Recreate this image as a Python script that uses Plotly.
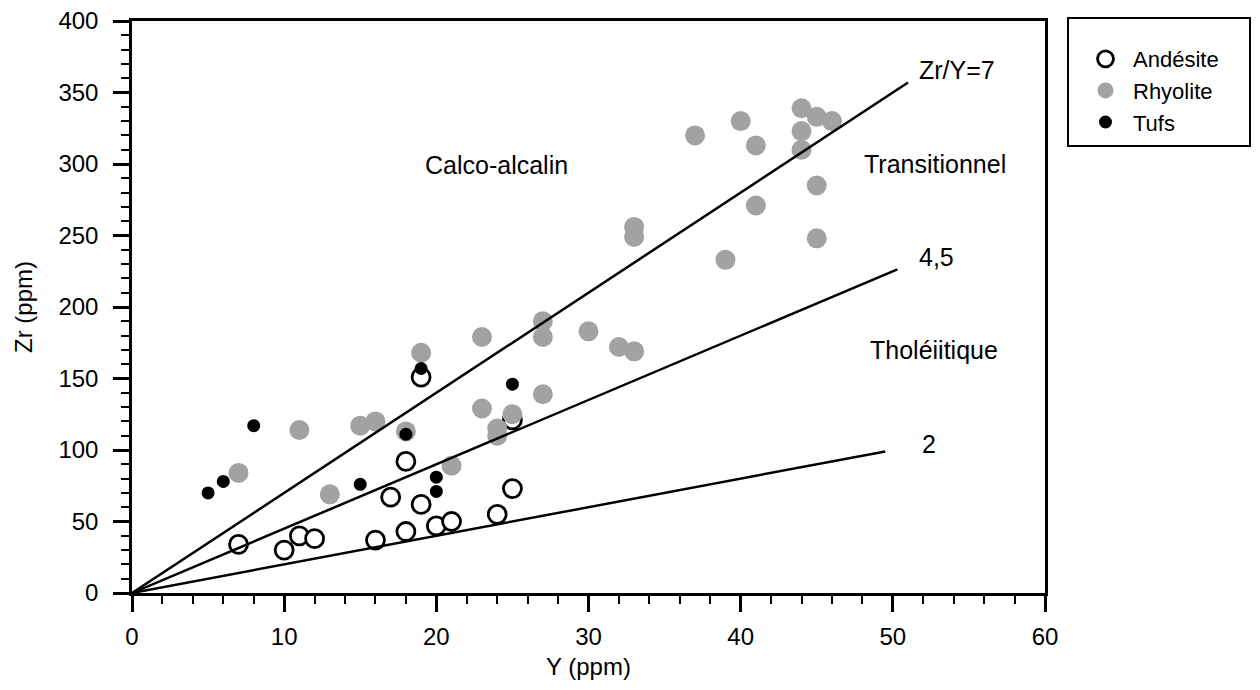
import plotly.graph_objects as go

# ---- data ----
andesite_y = [7, 10, 11, 12, 16, 17, 18, 18, 19, 19, 20, 21, 24, 25, 25]
andesite_zr = [34, 30, 40, 38, 37, 67, 43, 92, 62, 151, 47, 50, 55, 73, 121]

rhyolite_y = [7, 11, 13, 15, 16, 18, 19, 21, 23, 24, 24, 25, 27, 23, 27, 27, 30, 32, 33,
              33, 33, 39, 41, 37, 40, 41, 44, 44, 44, 45, 46, 45, 45]
rhyolite_zr = [84, 114, 69, 117, 120, 113, 168, 89, 129, 115, 110, 125, 139, 179, 179, 190, 183, 172, 169,
               256, 249, 233, 271, 320, 330, 313, 339, 323, 310, 333, 330, 285, 248]

tufs_y = [5, 6, 8, 15, 18, 19, 20, 20, 25]
tufs_zr = [70, 78, 117, 76, 111, 157, 81, 71, 146]

ratio_values = [7, 4.5, 2]
ratio_end_y = [51, 50.3, 49.5]
ratio_labels = ["Zr/Y=7", "4,5", "2"]

field_labels = ["Calco-alcalin", "Transitionnel", "Tholéiitique"]
field_pos_x = [19.1, 48.0, 48.4]
field_pos_zr = [299, 300, 170]

FONT = "Liberation Sans, Arial, sans-serif"

fig = go.Figure()

fig.add_trace(go.Scatter(
    x=andesite_y, y=andesite_zr, mode="markers", name="Andésite",
    marker=dict(symbol="circle", size=18, color="white",
                line=dict(color="black", width=2.8))))
fig.add_trace(go.Scatter(
    x=rhyolite_y, y=rhyolite_zr, mode="markers", name="Rhyolite",
    marker=dict(symbol="circle", size=20, color="#a2a2a2",
                line=dict(width=0))))
fig.add_trace(go.Scatter(
    x=tufs_y, y=tufs_zr, mode="markers", name="Tufs",
    marker=dict(symbol="circle", size=13, color="black",
                line=dict(width=0))))

for r, xe in zip(ratio_values, ratio_end_y):
    fig.add_trace(go.Scatter(
        x=[0, xe], y=[0, r * xe], mode="lines", showlegend=False,
        line=dict(color="black", width=2.5), hoverinfo="skip"))

label_pos_x = [51.6, 51.6, 51.8]
label_pos_zr = [366, 235, 104]
for t, lx, lz in zip(ratio_labels, label_pos_x, label_pos_zr):
    fig.add_annotation(x=lx, y=lz, text=t, showarrow=False, xanchor="left",
                       yanchor="middle", font=dict(family=FONT, size=25, color="black"))
for t, lx, lz in zip(field_labels, field_pos_x, field_pos_zr):
    fig.add_annotation(x=lx, y=lz, text=t, showarrow=False, xanchor="left",
                       yanchor="middle", font=dict(family=FONT, size=25, color="black"))

L, R, T, B = 132, 215, 21, 97
W, H = 1260, 690
pw, ph = W - L - R, H - T - B

def px(xp):
    return (xp - L) / pw

def py(yp):
    return (H - B - yp) / ph

# legend frame
fig.add_shape(type="rect", xref="paper", yref="paper",
              x0=px(1068), x1=px(1250), y0=py(146), y1=py(18),
              line=dict(color="black", width=2), fillcolor="white", layer="below")

axis_common = dict(
    showline=True, linecolor="black", linewidth=2.5, mirror=True,
    ticks="outside", ticklen=16, tickwidth=2.5, tickcolor="black",
    showgrid=False, zeroline=False,
    tickfont=dict(family=FONT, size=24, color="black"),
)

fig.update_xaxes(range=[0, 60], dtick=10, tick0=0,
                 minor=dict(dtick=2, ticks="outside", ticklen=8, tickwidth=2, tickcolor="black"),
                 title=dict(text="Y (ppm)", font=dict(family=FONT, size=24, color="black"), standoff=10),
                 ticklabelstandoff=4, **axis_common)
fig.update_yaxes(range=[0, 400], dtick=50, tick0=0,
                 minor=dict(dtick=10, ticks="outside", ticklen=8, tickwidth=2, tickcolor="black"),
                 title=dict(text="Zr (ppm)", font=dict(family=FONT, size=24, color="black"), standoff=20),
                 ticklabelstandoff=10, **axis_common)

fig.update_layout(
    width=W, height=H,
    margin=dict(l=L, r=R, t=T, b=B, autoexpand=False),
    paper_bgcolor="white", plot_bgcolor="white",
    showlegend=True,
    legend=dict(x=px(1078), y=py(38), xanchor="left", yanchor="top",
                bgcolor="rgba(0,0,0,0)", borderwidth=0,
                font=dict(family=FONT, size=22, color="black"),
                itemsizing="trace", itemwidth=45, tracegroupgap=0),
)

fig.write_html("out.html")
